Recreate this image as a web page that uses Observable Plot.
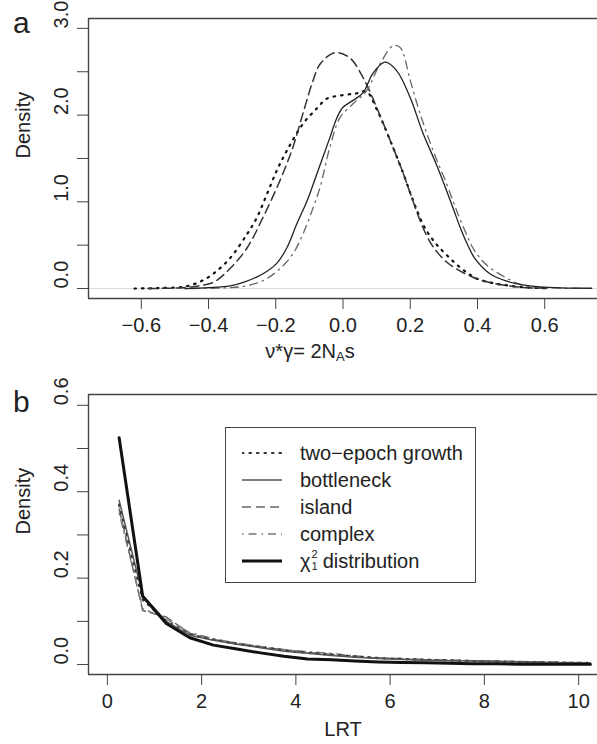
<!DOCTYPE html>
<html>
<head>
<meta charset="utf-8">
<script src="https://cdn.jsdelivr.net/npm/d3@7"></script>
<script src="https://cdn.jsdelivr.net/npm/@observablehq/plot@0.6"></script>
<style>
  html, body { margin: 0; padding: 0; background: #fff; overflow: hidden; }
  body { width: 597px; height: 744px; position: relative; font-family: "Liberation Sans", Arial, Helvetica, sans-serif; color: #222; }
  .panel { position: absolute; left: 0; }
  .plabel { position: absolute; font-size: 30px; line-height: 1; color: #222; }
  .xlab { position: absolute; font-size: 20px; line-height: 1; white-space: nowrap; transform: translate(-50%, -50%); }
  .xlab sub { font-size: 13px; vertical-align: -3px; }
  #legend { position: absolute; left: 225px; top: 427px; width: 251px; height: 156px; border: 1.4px solid #444; box-sizing: border-box; }
  .row { position: absolute; left: 0; height: 26px; display: flex; align-items: center; font-size: 20px; white-space: nowrap; }
  .row svg { margin-left: 16px; margin-right: 18px; }
  .chi { display: inline-flex; align-items: center; }
  .chi .st { display: inline-flex; flex-direction: column; font-size: 11px; line-height: 12px; margin-left: 1px; margin-right: 5px; margin-top: -2px; }
</style>
</head>
<body>
<div id="pa" class="panel" style="top:0"></div>
<div id="pb" class="panel" style="top:376px"></div>
<div class="plabel" style="left:13px; top:8px;">a</div>
<div class="plabel" style="left:13px; top:387px;">b</div>
<div class="xlab" style="left:310px; top:352px;">ν*γ= 2N<sub>A</sub>s</div>
<div id="legend"></div>
<script>
// ---------- Panel a: density of nu*gamma = 2 N_A s ----------
const twoEpochX = [-0.62,-0.55,-0.475,-0.43,-0.386,-0.336,-0.285,-0.256,-0.226,-0.197,-0.167,-0.119,-0.077,-0.048,0,0.04,0.07,0.10,0.14,0.179,0.208,0.238,0.26,0.28,0.31,0.34,0.37,0.40,0.45,0.50,0.55,0.60];
const twoEpochY = [0,0.005,0.02,0.07,0.17,0.35,0.63,0.82,1.09,1.36,1.59,1.90,2.08,2.19,2.23,2.25,2.27,2.07,1.71,1.33,1.02,0.74,0.60,0.50,0.38,0.27,0.18,0.11,0.06,0.03,0.012,0.004];
const bottleneckX = [-0.47,-0.40,-0.336,-0.29,-0.238,-0.197,-0.167,-0.137,-0.107,-0.077,-0.039,-0.018,0,0.03,0.06,0.089,0.125,0.16,0.20,0.238,0.279,0.309,0.33,0.348,0.37,0.39,0.437,0.487,0.535,0.585,0.65,0.74];
const bottleneckY = [0,0.01,0.03,0.08,0.17,0.29,0.47,0.75,1.01,1.33,1.74,1.97,2.09,2.17,2.26,2.48,2.61,2.51,2.20,1.79,1.42,1.12,0.90,0.71,0.51,0.36,0.17,0.085,0.042,0.02,0.008,0.003];
const islandX = [-0.58,-0.475,-0.43,-0.386,-0.336,-0.285,-0.238,-0.187,-0.149,-0.119,-0.089,-0.068,-0.024,0.02,0.06,0.10,0.14,0.179,0.208,0.238,0.26,0.28,0.31,0.34,0.386,0.437,0.487,0.535,0.58,0.62];
const islandY = [0,0.01,0.03,0.07,0.23,0.47,0.82,1.25,1.63,2.02,2.40,2.59,2.72,2.66,2.43,2.09,1.71,1.33,1.01,0.70,0.53,0.42,0.30,0.22,0.13,0.07,0.035,0.012,0.005,0];
const complexX = [-0.47,-0.336,-0.29,-0.238,-0.187,-0.149,-0.119,-0.089,-0.068,-0.039,-0.009,0.03,0.07,0.11,0.149,0.17,0.20,0.229,0.268,0.309,0.33,0.348,0.37,0.386,0.41,0.437,0.487,0.53,0.58,0.65,0.72];
const complexY = [0,0.01,0.03,0.09,0.23,0.40,0.63,0.93,1.17,1.63,1.97,2.13,2.28,2.59,2.80,2.78,2.40,2.02,1.59,1.20,0.98,0.80,0.60,0.47,0.34,0.24,0.12,0.045,0.015,0.005,0.002];

const aYTicks = [0,0.5,1,1.5,2,2.5,3];
const aYLabels = [0,1,2,3];
const aXTicks = [-0.6,-0.4,-0.2,0,0.2,0.4,0.6];

// ---------- Panel b: LRT densities ----------
const lrtX = [0.25,0.75,1.25,1.75,2.25,2.75,3.25,3.75,4.25,4.75,5.25,5.75,6.25,6.75,7.25,7.75,8.25,8.75,9.25,9.75,10.25];
const twoEpochB   = [0.37,0.15,0.10,0.070,0.057,0.048,0.040,0.033,0.027,0.023,0.019,0.015,0.013,0.011,0.010,0.008,0.007,0.006,0.005,0.004,0.004];
const bottleneckB = [0.38,0.16,0.10,0.068,0.056,0.047,0.039,0.031,0.026,0.021,0.017,0.014,0.012,0.010,0.009,0.008,0.007,0.006,0.005,0.004,0.003];
const islandB     = [0.36,0.125,0.11,0.072,0.058,0.049,0.041,0.034,0.028,0.024,0.019,0.015,0.013,0.011,0.010,0.009,0.008,0.007,0.006,0.005,0.004];
const complexB    = [0.35,0.13,0.105,0.074,0.060,0.050,0.042,0.035,0.030,0.026,0.020,0.016,0.014,0.012,0.010,0.009,0.008,0.007,0.006,0.005,0.004];
const chiB        = [0.525,0.158,0.095,0.062,0.045,0.036,0.027,0.019,0.013,0.011,0.008,0.006,0.005,0.004,0.003,0.002,0.002,0.001,0.001,0.001,0.001];

const bYTicks = [0,0.1,0.2,0.3,0.4,0.5,0.6];
const bYLabels = [0,0.2,0.4,0.6];
const bXTicks = [0,2,4,6,8,10];

const legendLabels = ["two\u2212epoch growth","bottleneck","island","complex","chi"];

const styles = {
  dotted:  {stroke:"#111", strokeWidth:2.2, strokeDasharray:"1.5 6", strokeLinecap:"round"},
  solid:   {stroke:"#222", strokeWidth:1.3},
  dashed:  {stroke:"#333", strokeWidth:1.5, strokeDasharray:"9 5"},
  dotdash: {stroke:"#666", strokeWidth:1.3, strokeDasharray:"1.5 5 8 5"},
  thick:   {stroke:"#111", strokeWidth:3}
};
const bStyles = {
  dotted:  {...styles.dotted, stroke:"#333"},
  solid:   {...styles.solid, stroke:"#555", strokeWidth:1.5},
  dashed:  {...styles.dashed, stroke:"#666"},
  dotdash: {...styles.dotdash, stroke:"#777"},
  thick:   styles.thick
};

const zip = (xs, ys) => xs.map((x, i) => ({x, y: ys[i]}));
const fmt1 = d3.format(".1f");
const font = {fontSize:"20px", fontFamily:"'Liberation Sans', Arial, Helvetica, sans-serif", color:"#222", background:"#fff"};

function boxMarks(xd, yd) {
  return [
    Plot.ruleY([yd[0], yd[1]], {x1: xd[0], x2: xd[1], stroke:"#444", strokeWidth:1.4}),
    Plot.ruleX([xd[0]], {y1: yd[0], y2: yd[1], stroke:"#444", strokeWidth:1.4})
  ];
}

// Panel a
const aX = [-0.757, 0.757];
const aY = [-0.115, 3.114];
const plotA = Plot.plot({
  width: 597, height: 376,
  marginLeft: 88, marginRight: 0, marginTop: 18, marginBottom: 78,
  x: {domain: aX}, y: {domain: aY},
  style: font,
  marks: [
    Plot.ruleY([0], {stroke:"#ddd", strokeWidth:1}),
    Plot.line(zip(twoEpochX, twoEpochY), {x:"x", y:"y", curve:"catmull-rom", ...styles.dotted}),
    Plot.line(zip(islandX, islandY), {x:"x", y:"y", curve:"catmull-rom", ...styles.dashed}),
    Plot.line(zip(complexX, complexY), {x:"x", y:"y", curve:"catmull-rom", ...styles.dotdash}),
    Plot.line(zip(bottleneckX, bottleneckY), {x:"x", y:"y", curve:"catmull-rom", ...styles.solid}),
    ...boxMarks(aX, aY),
    Plot.axisX({ticks: aXTicks, tickSize: 11, tickPadding: 8, tickFormat: fmt1, label: null, stroke:"#444"}),
    Plot.axisY({ticks: aYTicks, tickSize: 11, tickFormat: () => "", label: null, stroke:"#444"}),
    Plot.text(aYLabels, {y: d => d, text: d => fmt1(d), frameAnchor: "left", dx: -27, rotate: -90, fill:"#222"}),
    Plot.text(["Density"], {frameAnchor: "left", dx: -65, rotate: -90, fill:"#222"})
  ]
});
document.getElementById("pa").appendChild(plotA);

// Panel b
const bX = [-0.40, 10.40];
const bY = [-0.023, 0.625];
const plotB = Plot.plot({
  width: 597, height: 368,
  marginLeft: 88, marginRight: 0, marginTop: 18, marginBottom: 70,
  x: {domain: bX}, y: {domain: bY},
  style: font,
  marks: [
    Plot.line(zip(lrtX, islandB), {x:"x", y:"y", ...bStyles.dashed}),
    Plot.line(zip(lrtX, complexB), {x:"x", y:"y", ...bStyles.dotdash}),
    Plot.line(zip(lrtX, twoEpochB), {x:"x", y:"y", ...bStyles.dotted}),
    Plot.line(zip(lrtX, bottleneckB), {x:"x", y:"y", ...bStyles.solid}),
    Plot.line(zip(lrtX, chiB), {x:"x", y:"y", ...bStyles.thick}),
    ...boxMarks(bX, bY),
    Plot.axisX({ticks: bXTicks, tickSize: 11, tickPadding: 8, label: null, stroke:"#444"}),
    Plot.axisY({ticks: bYTicks, tickSize: 11, tickFormat: () => "", label: null, stroke:"#444"}),
    Plot.text(bYLabels, {y: d => d, text: d => fmt1(d), frameAnchor: "left", dx: -27, rotate: -90, fill:"#222"}),
    Plot.text(["Density"], {frameAnchor: "left", dx: -65, rotate: -90, fill:"#222"}),
    Plot.text(["LRT"], {frameAnchor: "bottom", dy: 61, fill:"#222"})
  ]
});
document.getElementById("pb").appendChild(plotB);

// Legend
const legendKeys = ["dotted","solid","dashed","dotdash","thick"];
const legend = document.getElementById("legend");
legendKeys.forEach((k, i) => {
  const row = document.createElement("div");
  row.className = "row";
  row.style.top = (12 + i * 27) + "px";
  const s = bStyles[k];
  row.innerHTML =
    `<svg width="40" height="10"><line x1="0" x2="40" y1="5" y2="5" stroke="${s.stroke}" stroke-width="${s.strokeWidth}"` +
    (s.strokeDasharray ? ` stroke-dasharray="${s.strokeDasharray}"` : "") +
    (s.strokeLinecap ? ` stroke-linecap="${s.strokeLinecap}"` : "") + `/></svg>` +
    (legendLabels[i] === "chi"
      ? `<span class="chi">χ<span class="st"><span>2</span><span>1</span></span>distribution</span>`
      : `<span>${legendLabels[i]}</span>`);
  legend.appendChild(row);
});
</script>
</body>
</html>
